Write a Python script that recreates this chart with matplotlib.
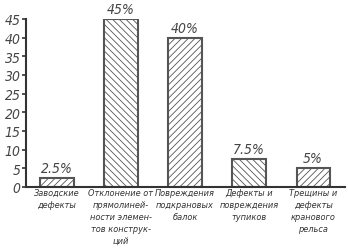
import matplotlib.pyplot as plt

categories = ["Заводские\nдефекты",
              "Отклонение от\nпрямолиней-\nности элемен-\nтов конструк-\nций",
              "Повреждения\nподкрановых\nбалок",
              "Дефекты и\nповреждения\nтупиков",
              "Трещины и\nдефекты\nкранового\nрельса"]
values = [2.5, 45, 40, 7.5, 5]
value_labels = ["2.5%", "45%", "40%", "7.5%", "5%"]
hatches = ['/////', '\\\\\\\\\\', '/////', '\\\\\\\\\\', '/////']
y_ticks = list(range(0, 50, 5))

plt.rcParams['font.family'] = ['DejaVu Sans']
plt.rcParams['font.style'] = 'italic'
plt.rcParams['hatch.color'] = '#777777'
plt.rcParams['hatch.linewidth'] = 0.6

fig = plt.figure(figsize=(3.48, 2.53), dpi=100)
ax = fig.add_axes([0.075, 0.257, 0.917, 0.664])

x = range(len(values))
bars = ax.bar(x, values, width=0.52, color='white', edgecolor='#555555',
              linewidth=1.5)
for b, h in zip(bars, hatches):
    b.set_hatch(h)

for i, (v, lab) in enumerate(zip(values, value_labels)):
    ax.text(i, v + 0.8, lab, ha='center', va='bottom', fontsize=10,
            color='#444444', fontstretch='condensed')

ax.set_xlim(-0.48, 4.5)
ax.set_ylim(0, 45)
ax.set_yticks(y_ticks)
ax.set_yticklabels([str(t) for t in y_ticks], fontsize=10, color='#444444',
                   fontstretch='condensed')
ax.set_xticks(list(x))
ax.set_xticklabels(categories, fontsize=6.6, color='#333333', linespacing=1.4,
                   va='top', fontstretch='condensed')
ax.tick_params(axis='x', length=0, pad=1)
ax.tick_params(axis='y', length=3, width=1.2, color='#333333', pad=1)

for s in ['top', 'right']:
    ax.spines[s].set_visible(False)
for s in ['left', 'bottom']:
    ax.spines[s].set_linewidth(1.5)
    ax.spines[s].set_color('#333333')

fig.savefig('out.png', dpi=100)
